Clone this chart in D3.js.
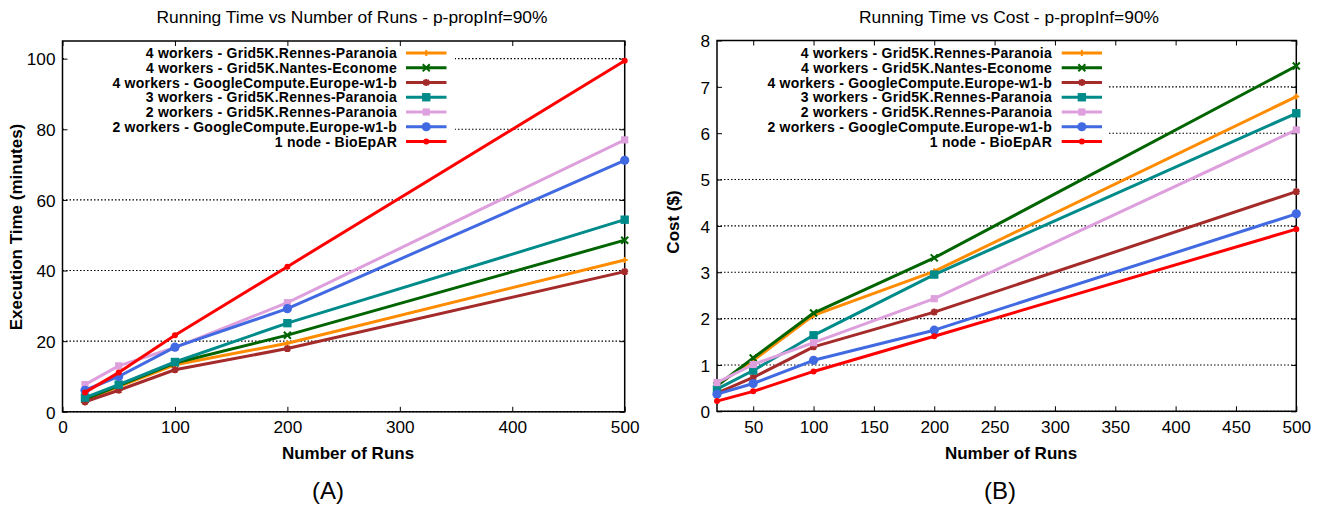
<!DOCTYPE html>
<html>
<head>
<meta charset="utf-8">
<script src="https://cdn.jsdelivr.net/npm/d3@7"></script>
<style>
  body { margin: 0; background: #fff; }
  svg { display: block; }
  text { font-family: "Liberation Sans", Arial, Helvetica, sans-serif; fill: #000; }
</style>
</head>
<body>
<svg id="chart" width="1323" height="508"></svg>
<script>
// ---------- DATA ----------
const runs = [20, 50, 100, 200, 500];

const seriesNames = [
  "4 workers - Grid5K.Rennes-Paranoia",
  "4 workers - Grid5K.Nantes-Econome",
  "4 workers - GoogleCompute.Europe-w1-b",
  "3 workers - Grid5K.Rennes-Paranoia",
  "2 workers - Grid5K.Rennes-Paranoia",
  "2 workers - GoogleCompute.Europe-w1-b",
  "1 node - BioEpAR"
];

// Execution time (minutes), panel A
const time4Rennes  = [3.3, 7.1, 13.3, 19.4, 43.0];
const time4Nantes  = [3.5, 7.4, 13.8, 21.7, 48.6];
const time4Google  = [2.8, 6.1, 11.9, 17.9, 39.7];
const time3Rennes  = [4.0, 7.7, 14.1, 25.1, 54.4];
const time2Rennes  = [7.7, 13.0, 18.2, 30.9, 77.0];
const time2Google  = [6.1, 10.0, 18.3, 29.2, 71.2];
const time1Node    = [5.5, 11.1, 21.7, 41.1, 99.4];

// Cost ($), panel B
const cost4Rennes  = [0.57, 1.10, 2.07, 3.02, 6.79];
const cost4Nantes  = [0.55, 1.15, 2.12, 3.31, 7.45];
const cost4Google  = [0.39, 0.73, 1.39, 2.14, 4.74];
const cost3Rennes  = [0.48, 0.88, 1.64, 2.95, 6.43];
const cost2Rennes  = [0.62, 1.01, 1.48, 2.43, 6.07];
const cost2Google  = [0.37, 0.60, 1.10, 1.75, 4.26];
const cost1Node    = [0.22, 0.43, 0.86, 1.62, 3.93];

const xTicksA = [0, 100, 200, 300, 400, 500];
const yTicksA = [0, 20, 40, 60, 80, 100];
const xTicksB = [50, 100, 150, 200, 250, 300, 350, 400, 450, 500];
const yTicksB = [0, 1, 2, 3, 4, 5, 6, 7, 8];

// ---------- STYLE ----------
const colors  = ["#ff8c00", "#006400", "#a52a2a", "#008b8b", "#dda0dd", "#4169e1", "#ff0000"];
const markers = ["plus", "cross", "star", "square", "square", "circle", "circle"];
const msizes  = [3, 3.5, 3.5, 4.2, 3.6, 4.6, 3];

const svg = d3.select("#chart");

function markerPath(type, s) {
  if (type === "plus") return `M${-s},0H${s}M0,${-s}V${s}`;
  if (type === "cross") return `M${-s},${-s}L${s},${s}M${-s},${s}L${s},${-s}`;
  if (type === "star") return `M${-s},0H${s}M0,${-s}V${s}M${-s*0.75},${-s*0.75}L${s*0.75},${s*0.75}M${-s*0.75},${s*0.75}L${s*0.75},${-s*0.75}`;
  return null;
}

function drawMarker(g, type, s, color, x, y) {
  if (type === "square") {
    g.append("rect").attr("x", x - s).attr("y", y - s).attr("width", 2*s).attr("height", 2*s).attr("fill", color);
  } else if (type === "circle") {
    g.append("circle").attr("cx", x).attr("cy", y).attr("r", s).attr("fill", color);
  } else {
    g.append("path").attr("d", markerPath(type, s)).attr("transform", `translate(${x},${y})`)
      .attr("stroke", color).attr("stroke-width", 2).attr("fill", "none");
  }
}

function panel(cfg) {
  const g = svg.append("g");
  const x = d3.scaleLinear().domain(cfg.xDomain).range([cfg.left, cfg.right]);
  const y = d3.scaleLinear().domain(cfg.yDomain).range([cfg.bottom, cfg.top]);

  // gridlines
  g.append("g").selectAll("line").data(cfg.yTicks).join("line")
    .attr("x1", cfg.left).attr("x2", cfg.right)
    .attr("y1", d => y(d)).attr("y2", d => y(d))
    .attr("stroke", "#000").attr("stroke-width", 1.1).attr("stroke-dasharray", "1.5,2");

  // legend background (opaque key)
  g.append("rect").attr("x", cfg.legendBox[0]).attr("y", cfg.legendBox[1])
    .attr("width", cfg.legendBox[2]).attr("height", cfg.legendBox[3]).attr("fill", "#fff");

  // axes
  const fontTick = "17.2px";
  const ax = g.append("g").attr("transform", `translate(0,${cfg.bottom})`)
    .call(d3.axisBottom(x).tickValues(cfg.xTicks).tickSize(-5).tickPadding(9).tickFormat(d3.format("d")));
  const axT = g.append("g").attr("transform", `translate(0,${cfg.top})`)
    .call(d3.axisTop(x).tickValues(cfg.xTicks).tickSize(-5).tickFormat(""));
  const ay = g.append("g").attr("transform", `translate(${cfg.left},0)`)
    .call(d3.axisLeft(y).tickValues(cfg.yTicks).tickSize(-5).tickPadding(7).tickFormat(d3.format("d")));
  const ayR = g.append("g").attr("transform", `translate(${cfg.right},0)`)
    .call(d3.axisRight(y).tickValues(cfg.yTicks).tickSize(-5).tickFormat(""));
  [ax, axT, ay, ayR].forEach(a => {
    a.select(".domain").remove();
    a.selectAll(".tick line").attr("stroke", "#000").attr("stroke-width", 1);
    a.selectAll("text").attr("font-size", fontTick).attr("font-family", "Liberation Sans, Arial, sans-serif").attr("fill", "#000");
  });
  ay.selectAll("text").attr("dy", "0.36em");

  // frame
  g.append("rect").attr("x", cfg.left).attr("y", cfg.top)
    .attr("width", cfg.right - cfg.left).attr("height", cfg.bottom - cfg.top)
    .attr("fill", "none").attr("stroke", "#000").attr("stroke-width", 1.5);

  // series
  const line = d3.line().x(d => x(d[0])).y(d => y(d[1]));
  cfg.series.forEach((vals, i) => {
    const pts = runs.map((r, k) => [r, vals[k]]);
    const sg = g.append("g");
    sg.append("path").attr("d", line(pts)).attr("fill", "none")
      .attr("stroke", colors[i]).attr("stroke-width", 3).attr("stroke-linejoin", "round");
    pts.forEach(p => drawMarker(sg, markers[i], msizes[i], colors[i], x(p[0]), y(p[1])));
  });

  // legend
  const lg = g.append("g");
  seriesNames.forEach((name, i) => {
    const ly = cfg.legendY0 + i * 14.75;
    lg.append("text").attr("x", cfg.legendTextX).attr("y", ly).attr("dy", "0.36em")
      .attr("text-anchor", "end").attr("font-size", "14px").attr("font-weight", "bold")
      .attr("letter-spacing", "0.25px").text(name);
    lg.append("line").attr("x1", cfg.legendLine[0]).attr("x2", cfg.legendLine[1])
      .attr("y1", ly).attr("y2", ly).attr("stroke", colors[i]).attr("stroke-width", 3);
    drawMarker(lg, markers[i], msizes[i], colors[i], (cfg.legendLine[0] + cfg.legendLine[1]) / 2, ly);
  });

  // titles & labels
  g.append("text").attr("x", cfg.titleX).attr("y", 23).attr("text-anchor", "middle")
    .attr("font-size", "17.4px").text(cfg.title);
  g.append("text").attr("x", cfg.xLabelX).attr("y", 459).attr("text-anchor", "middle")
    .attr("font-size", "17px").attr("font-weight", "bold").text("Number of Runs");
  g.append("text").attr("transform", `translate(${cfg.yLabelX},${cfg.yLabelY}) rotate(-90)`)
    .attr("text-anchor", "middle").attr("font-size", "17px").attr("font-weight", "bold").text(cfg.yLabel);
  g.append("text").attr("x", cfg.panelLabelX).attr("y", 499).attr("text-anchor", "middle")
    .attr("font-size", "24px").text(cfg.panelLabel);
}

panel({
  xDomain: [0, 500], yDomain: [0, 105],
  left: 62.5, right: 624.7, top: 41, bottom: 411.8,
  xTicks: xTicksA, yTicks: yTicksA,
  series: [time4Rennes, time4Nantes, time4Google, time3Rennes, time2Rennes, time2Google, time1Node],
  legendBox: [64, 43, 391, 108],
  legendY0: 53, legendTextX: 397, legendLine: [406, 446.5],
  title: "Running Time vs Number of Runs - p-propInf=90%", titleX: 352,
  xLabelX: 348, yLabel: "Execution Time (minutes)", yLabelX: 22, yLabelY: 227,
  panelLabel: "(A)", panelLabelX: 328
});

panel({
  xDomain: [20, 500], yDomain: [0, 8],
  left: 717, right: 1296.3, top: 40.5, bottom: 411.3,
  xTicks: xTicksB, yTicks: yTicksB,
  series: [cost4Rennes, cost4Nantes, cost4Google, cost3Rennes, cost2Rennes, cost2Google, cost1Node],
  legendBox: [718, 43, 390, 108],
  legendY0: 53, legendTextX: 1052, legendLine: [1061.7, 1102],
  title: "Running Time vs Cost - p-propInf=90%", titleX: 1009,
  xLabelX: 1011, yLabel: "Cost ($)", yLabelX: 679, yLabelY: 222,
  panelLabel: "(B)", panelLabelX: 1000
});
</script>
</body>
</html>
